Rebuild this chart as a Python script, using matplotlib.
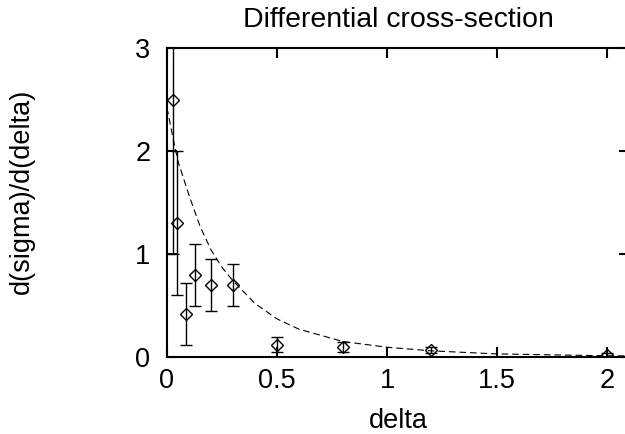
import matplotlib
matplotlib.use('Agg')
import matplotlib.pyplot as plt

plt.rcParams['font.family'] = ['Liberation Sans', 'DejaVu Sans']

# measured points with errors
delta = [0.025, 0.045, 0.085, 0.125, 0.2, 0.3, 0.5, 0.8, 1.2, 2.0]
dsig = [2.5, 1.3, 0.42, 0.8, 0.7, 0.7, 0.12, 0.1, 0.07, 0.02]
err = [1.5, 0.7, 0.3, 0.3, 0.25, 0.2, 0.07, 0.05, 0.03, 0.02]

# fitted curve
fit_x = [0.0, 0.025, 0.05, 0.1, 0.15, 0.2, 0.25, 0.3, 0.4, 0.5, 0.6, 0.8, 1.0, 1.2, 1.5, 2.0, 2.1]
fit_y = [2.42, 2.15, 1.9, 1.57, 1.27, 1.04, 0.87, 0.74, 0.52, 0.37, 0.27, 0.15, 0.095, 0.06, 0.03, 0.012, 0.01]

fs = 19.5

fig = plt.figure(figsize=(6.25, 4.34), dpi=100)
ax = fig.add_axes([0.2672, 0.1774, 0.7392, 0.712])

ax.plot(fit_x, fit_y, color='black', lw=0.8, linestyle=(0, (6, 3.5)))
ax.errorbar(delta, dsig, yerr=err, fmt='D', ms=6, mfc='none', mec='black', mew=1.0,
            ecolor='black', elinewidth=1.0, capsize=4.3, capthick=1.0, color='black')

ax.set_xlim(0, 2.1)
ax.set_ylim(0, 3)
ax.set_xticks([0, 0.5, 1, 1.5, 2])
ax.set_xticklabels(['0', '0.5', '1', '1.5', '2'])
ax.set_yticks([0, 1, 2, 3])
ax.tick_params(direction='in', length=7, width=1.5, labelsize=fs,
               top=True, right=True)
ax.tick_params(axis='y', pad=12)
ax.tick_params(axis='x', pad=8)
for s in ax.spines.values():
    s.set_linewidth(1.5)

# labels placed by hand like gnuplot does
fig.text(398 / 625, 1 - 428 / 434, 'delta', fontsize=fs, ha='center', va='baseline')
fig.text(22 / 625, 1 - 191.5 / 434, 'd(sigma)/d(delta)', fontsize=fs,
         rotation=90, ha='center', va='center')
fig.text(398 / 625, 1 - 27 / 434, 'Differential cross-section', fontsize=20.5,
         ha='center', va='baseline')

fig.savefig('out.png', dpi=100)
